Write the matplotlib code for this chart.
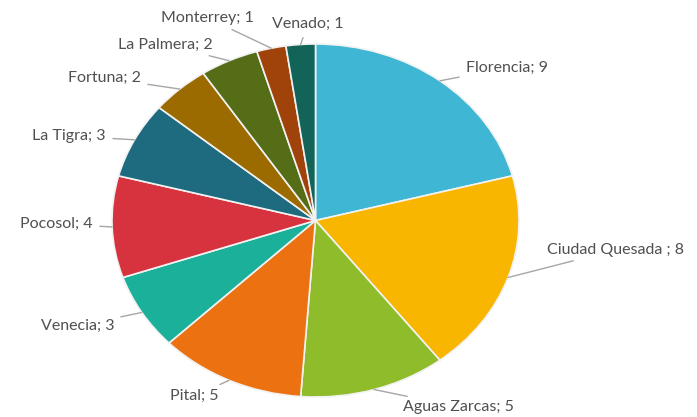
import numpy as np
import matplotlib
matplotlib.use("Agg")
import matplotlib.pyplot as plt

categories = ["Florencia", "Ciudad Quesada", "Aguas Zarcas", "Pital", "Venecia",
              "Pocosol", "La Tigra", "Fortuna", "La Palmera", "Monterrey", "Venado"]
values = [9, 8, 5, 5, 3, 4, 3, 2, 2, 1, 1]
separators = ["; ", " ; ", "; ", "; ", "; ", "; ", "; ", "; ", "; ", "; ", "; "]
colors = ["#3FB6D3", "#F8B600", "#8FBC2B", "#EC7211", "#1BB09A", "#D6333F",
          "#1E6A7E", "#9C6B00", "#556D17", "#A0430A", "#116457"]

W, H = 697, 417
fig = plt.figure(figsize=(W / 100, H / 100), dpi=100)
# pie area in pixels: x 112..519, y 44..397 (top-down)
ax = fig.add_axes([112 / W, (H - 397) / H, 407 / W, 353 / H])
wedges, _ = ax.pie(values, colors=colors, startangle=90, counterclock=False,
                   wedgeprops=dict(edgecolor="#F2F2F2", linewidth=1.2))
ax.set_aspect("auto")
ax.set_xlim(-1, 1)
ax.set_ylim(-1, 1)

# label layout: (text x px, text y px from top, ha)
layout = [
    (466, 68, "left"),
    (547, 250, "left"),
    (403, 407, "left"),
    (219, 396, "right"),
    (114, 326, "right"),
    (93, 224, "right"),
    (106, 136, "right"),
    (141, 78, "right"),
    (213, 45, "right"),
    (254, 18, "right"),
    (272, 24, "left"),
]
txtcolor = "#505050"
inv = ax.transData.inverted()
for w, cat, val, sep, (tx, ty, ha) in zip(wedges, categories, values, separators, layout):
    mid = np.deg2rad((w.theta1 + w.theta2) / 2)
    px, py = np.cos(mid), np.sin(mid)
    dx, dy = inv.transform(fig.transFigure.transform((tx / W, (H - ty) / H)))
    ax.annotate(f"{cat}{sep}{val}", xy=(px, py), xytext=(dx, dy),
                textcoords="data", ha=ha, va="center", fontsize=11.5,
                family=["Lato", "DejaVu Sans"], color=txtcolor,
                annotation_clip=False,
                arrowprops=dict(arrowstyle="-", color="#A6A6A6", lw=1,
                                shrinkA=3, shrinkB=0))

fig.savefig("out.png", dpi=100, facecolor="white")
